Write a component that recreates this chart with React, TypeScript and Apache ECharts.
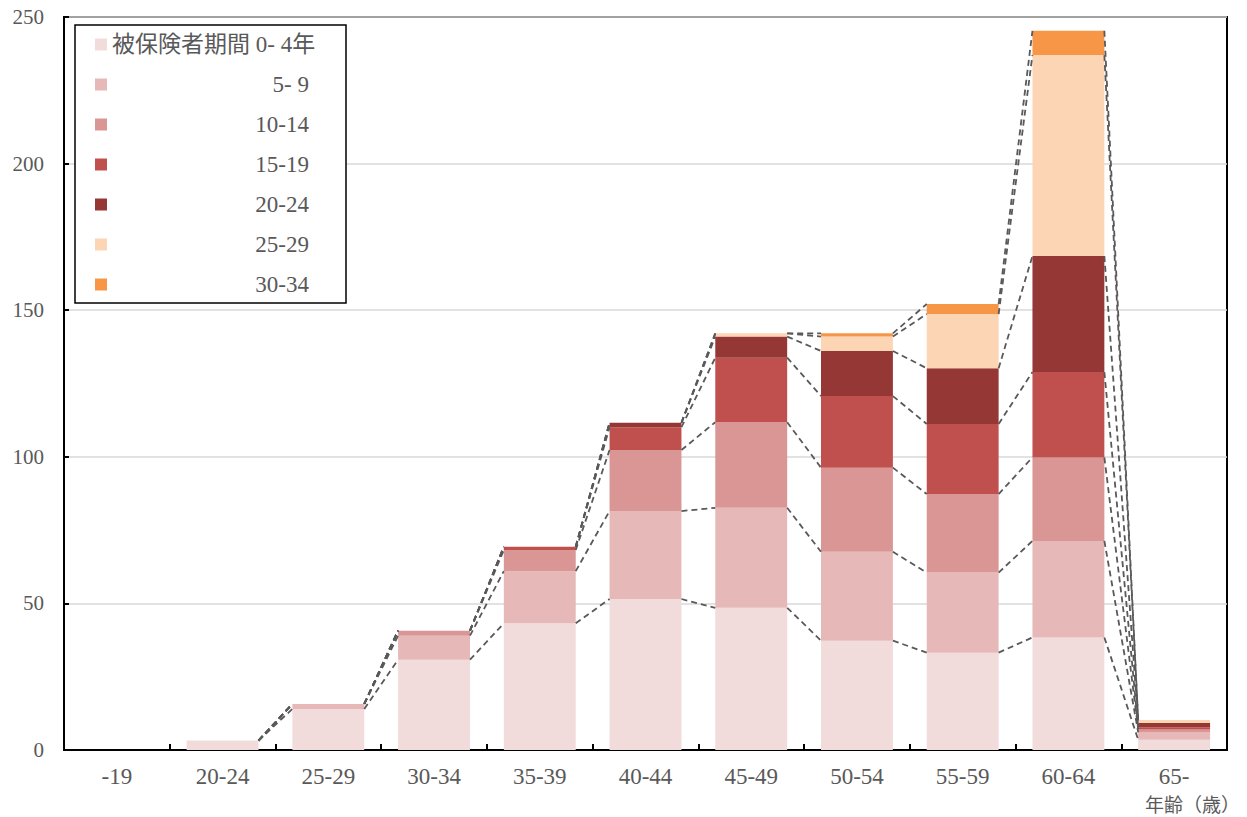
import React, { useEffect, useRef } from "react";
import * as echarts from "echarts";

const categories = ["-19", "20-24", "25-29", "30-34", "35-39", "40-44", "45-49", "50-54", "55-59", "60-64", "65-"];
const seriesNames = ["被保険者期間 0- 4年", "5- 9", "10-14", "15-19", "20-24", "25-29", "30-34"];
const s0_4 = [null, 3.2, 14.0, 30.8, 43.2, 51.5, 48.5, 37.3, 33.2, 38.4, 3.5];
const s5_9 = [null, 0, 1.7, 8.2, 17.8, 30.0, 34.1, 30.3, 27.3, 32.9, 2.5];
const s10_14 = [null, 0, 0, 1.7, 7.2, 20.8, 29.2, 28.7, 26.8, 28.5, 1.0];
const s15_19 = [null, 0, 0, 0, 1.1, 7.8, 22.0, 24.4, 23.9, 29.1, 0.8];
const s20_24 = [null, 0, 0, 0, 0, 1.5, 7.2, 15.4, 19.0, 39.6, 1.4];
const s25_29 = [null, 0, 0, 0, 0, 0, 1.1, 4.9, 18.5, 68.5, 1.0];
const s30_34 = [null, 0, 0, 0, 0, 0, 0, 1.1, 3.4, 8.3, 0];
const yTicks = [0, 50, 100, 150, 200, 250];

const colors = ["#f2dcdb", "#e6b9b8", "#d99694", "#c0504d", "#953735", "#fcd5b5", "#f79646"];
const allSeries = [s0_4, s5_9, s10_14, s15_19, s20_24, s25_29, s30_34];
const BAR_RATIO = 0.68;
const FONT = "'Liberation Serif', 'Noto Sans CJK JP', serif";
const GRAY = "#595959";

export default function App() {
  const ref = useRef<HTMLDivElement>(null);
  useEffect(() => {
    if (!ref.current) return;
    const chart = echarts.init(ref.current, undefined, { renderer: "svg" });

    const cum: (number | null)[][] = allSeries.map(() => []);
    for (let i = 0; i < categories.length; i++) {
      let acc = 0;
      for (let k = 0; k < allSeries.length; k++) {
        const v = allSeries[k][i];
        if (v === null) {
          cum[k][i] = null;
        } else {
          acc += v;
          cum[k][i] = acc;
        }
      }
    }
    const lineData: number[][] = [];
    for (let i = 0; i < categories.length - 1; i++) {
      if (cum[0][i] === null || cum[0][i + 1] === null) continue;
      const row: number[] = [i];
      for (let k = 0; k < allSeries.length; k++) row.push(cum[k][i] as number);
      for (let k = 0; k < allSeries.length; k++) row.push(cum[k][i + 1] as number);
      lineData.push(row);
    }
    const nL = allSeries.length;

    const barSeries = allSeries.map((d, k) => ({
      name: seriesNames[k],
      type: "bar",
      stack: "total",
      barWidth: `${BAR_RATIO * 100}%`,
      data: d,
      itemStyle: { color: colors[k] },
      z: 2,
    }));

    const option: any = {
      animation: false,
      textStyle: { fontFamily: FONT },
      grid: {
        left: 64,
        right: 20,
        top: 17,
        bottom: 67,
        show: true,
        borderColor: "#000",
        borderWidth: 2,
        containLabel: false,
      },
      legend: {
        data: seriesNames,
        orient: "vertical",
        left: 75,
        top: 25,
        padding: [8, 19, 7, 20],
        itemWidth: 12,
        itemHeight: 12,
        itemGap: 17,
        icon: "rect",
        backgroundColor: "#fff",
        borderColor: "#000",
        borderWidth: 1.5,
        borderRadius: 0,
        selectedMode: false,
        formatter: (name: string) => (name === seriesNames[0] ? `{a|${name}}` : `{r|${name}}`),
        textStyle: {
          color: GRAY,
          fontFamily: FONT,
          fontSize: 23,
          lineHeight: 20,
          rich: {
            a: { width: 215, align: "left", fontSize: 23, lineHeight: 20, color: GRAY, fontFamily: FONT },
            r: { width: 197, align: "right", fontSize: 23, lineHeight: 20, color: GRAY, fontFamily: FONT },
          },
        },
      },
      xAxis: {
        type: "category",
        data: categories,
        axisLine: { show: true, lineStyle: { color: "#000", width: 2 } },
        axisTick: { show: true, inside: true, length: 6, lineStyle: { color: "#000", width: 2 } },
        axisLabel: { color: GRAY, fontSize: 23, fontFamily: FONT, margin: 15 },
      },
      yAxis: {
        type: "value",
        min: yTicks[0],
        max: yTicks[yTicks.length - 1],
        interval: yTicks[1] - yTicks[0],
        axisLine: { show: true, lineStyle: { color: "#000", width: 2 } },
        axisTick: { show: true, inside: true, length: 5, lineStyle: { color: "#000", width: 2 } },
        axisLabel: { color: GRAY, fontSize: 21, fontFamily: FONT, margin: 20 },
        splitLine: { show: true, lineStyle: { color: "#d9d9d9", width: 1.5 } },
      },
      graphic: [
        {
          type: "text",
          right: 7,
          top: 796,
          style: { text: "年齢（歳）", fill: GRAY, fontSize: 19, fontFamily: FONT },
        },
      ],
      series: [
        ...barSeries,
        {
          type: "custom",
          name: "seriesLines",
          z: 5,
          silent: true,
          data: lineData,
          encode: { x: 0, y: 1 },
          renderItem: (params: any, api: any) => {
            const i = api.value(0);
            const band = api.size([1, 0])[0];
            const half = (band * BAR_RATIO) / 2;
            const children: any[] = [];
            for (let k = 0; k < nL; k++) {
              const a = api.value(1 + k);
              const b = api.value(1 + nL + k);
              const p1 = api.coord([i, a]);
              const p2 = api.coord([i + 1, b]);
              children.push({
                type: "line",
                shape: { x1: p1[0] + half, y1: p1[1], x2: p2[0] - half, y2: p2[1] },
                style: { stroke: GRAY, lineWidth: 1.8, lineDash: [6, 4], fill: null },
              });
            }
            return { type: "group", children };
          },
        },
      ],
    };
    chart.setOption(option);
    return () => chart.dispose();
  }, []);

  return (
    <div
      ref={ref}
      style={{ position: "absolute", left: 0, top: 0, width: 1247, height: 817, background: "#fff" }}
    />
  );
}
